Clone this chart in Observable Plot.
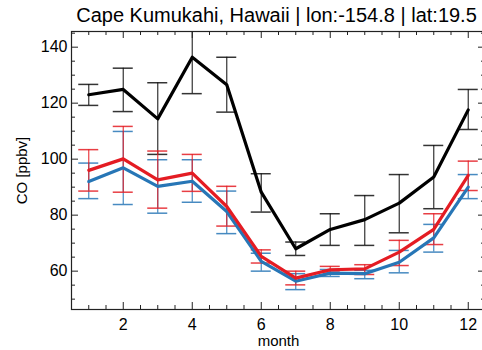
<!DOCTYPE html>
<html>
<head>
<meta charset="utf-8">
<script src="https://cdn.jsdelivr.net/npm/d3@7"></script>
<script src="https://cdn.jsdelivr.net/npm/@observablehq/plot@0.6"></script>
<style>
  html, body { margin: 0; padding: 0; background: #fff; }
  #chart { width: 482px; height: 350px; overflow: hidden; }
</style>
</head>
<body>
<div id="chart"></div>
<script>
const title = "Cape Kumukahi, Hawaii | lon:-154.8 | lat:19.5";
const xLabel = "month";
const yLabel = "CO [ppbv]";

const months = [1, 2, 3, 4, 5, 6, 7, 8, 9, 10, 11, 12];

const blackMean = [123.0, 124.9, 114.4, 136.4, 126.6, 88.2, 68.0, 74.9, 78.4, 84.3, 93.6, 117.6];
const blackLow  = [119.2, 117.0, 101.7, 123.4, 116.8, 81.1, 65.6, 69.2, 69.2, 73.7, 82.3, 110.6];
const blackHigh = [126.7, 132.5, 127.3, 150.0, 136.4, 94.8, 70.4, 80.5, 87.0, 94.5, 104.9, 124.9];

const redMean = [96.0, 100.1, 92.6, 95.0, 83.1, 65.3, 57.5, 60.5, 60.8, 66.8, 74.9, 94.2];
const redLow  = [88.6, 88.2, 82.5, 88.5, 76.1, 62.9, 55.1, 59.7, 58.8, 62.0, 69.5, 88.8];
const redHigh = [103.4, 111.7, 102.9, 101.7, 90.3, 67.6, 60.0, 61.7, 62.3, 71.0, 80.5, 99.3];

const blueMean = [92.0, 96.9, 90.3, 92.1, 81.3, 63.5, 56.4, 59.3, 59.1, 63.2, 71.9, 90.0];
const blueLow  = [85.9, 83.8, 80.7, 84.6, 73.4, 60.0, 53.4, 58.1, 57.3, 59.4, 66.8, 85.9];
const blueHigh = [98.6, 109.9, 99.8, 99.8, 88.6, 66.4, 59.1, 60.6, 60.3, 67.4, 76.7, 94.5];

const xDomain = [0.5, 12.5];
const yDomain = [46.3, 145.6];
const xMajor = [2, 4, 6, 8, 10, 12];
const xMinor = d3.range(1, 12.01, 0.5).filter(v => !xMajor.includes(v));
const yMajor = [60, 80, 100, 120, 140];
const yMinor = d3.range(50, 146, 5).filter(v => !yMajor.includes(v));

const series = [
  {name: "black", color: "#000000", mean: blackMean, low: blackLow, high: blackHigh, barColor: "#111111"},
  {name: "blue",  color: "#2776b6", mean: blueMean,  low: blueLow,  high: blueHigh,  barColor: "#2776b6"},
  {name: "red",   color: "#e41c23", mean: redMean,   low: redLow,   high: redHigh,   barColor: "#e41c23"}
];
const rows = series.map(s => months.map((m, i) => ({month: m, mean: s.mean[i], low: s.low[i], high: s.high[i]})));

function errMarks(s, data) {
  return [
    Plot.ruleX(data, {x: "month", y1: "low", y2: "high", stroke: s.barColor, strokeWidth: 1.2, strokeOpacity: 0.85, clip: true}),
    Plot.ruleY(data, {y: "low", x1: "month", x2: "month", insetLeft: -10, insetRight: -10, stroke: s.barColor, strokeWidth: 1.5, strokeOpacity: 0.85, clip: true}),
    Plot.ruleY(data, {y: "high", x1: "month", x2: "month", insetLeft: -10, insetRight: -10, stroke: s.barColor, strokeWidth: 1.5, strokeOpacity: 0.85, clip: true})
  ];
}

const tickColor = "#222";
const axisFont = "Liberation Sans, Arial, Helvetica, sans-serif";

const chart = Plot.plot({
  width: 482,
  height: 350,
  marginLeft: 71,
  marginRight: -3,
  marginTop: 31,
  marginBottom: 41,
  style: {fontFamily: axisFont, fontSize: "16px", color: "#000", background: "#fff"},
  x: {domain: xDomain, axis: null},
  y: {domain: yDomain, axis: null},
  marks: [
    ...errMarks(series[0], rows[0]),
    ...errMarks(series[1], rows[1]),
    ...errMarks(series[2], rows[2]),
    Plot.line(rows[1], {x: "month", y: "mean", stroke: series[1].color, strokeWidth: 3.2}),
    Plot.line(rows[2], {x: "month", y: "mean", stroke: series[2].color, strokeWidth: 3.2}),
    Plot.line(rows[0], {x: "month", y: "mean", stroke: series[0].color, strokeWidth: 3.2}),
    Plot.frame({stroke: tickColor, strokeWidth: 1.2}),
    Plot.ruleX(xMajor, {x: d => d, y1: yDomain[0], y2: yDomain[0], insetTop: -7, stroke: tickColor}),
    Plot.ruleX(xMinor, {x: d => d, y1: yDomain[0], y2: yDomain[0], insetTop: -4, stroke: tickColor}),
    Plot.ruleX(xMajor, {x: d => d, y1: yDomain[1], y2: yDomain[1], insetBottom: -7, stroke: tickColor}),
    Plot.ruleX(xMinor, {x: d => d, y1: yDomain[1], y2: yDomain[1], insetBottom: -4, stroke: tickColor}),
    Plot.ruleY(yMajor, {y: d => d, x1: xDomain[0], x2: xDomain[0], insetRight: -7, stroke: tickColor}),
    Plot.ruleY(yMinor, {y: d => d, x1: xDomain[0], x2: xDomain[0], insetRight: -4, stroke: tickColor}),
    Plot.ruleY(yMajor, {y: d => d, x1: xDomain[1], x2: xDomain[1], insetLeft: -7, stroke: tickColor}),
    Plot.ruleY(yMinor, {y: d => d, x1: xDomain[1], x2: xDomain[1], insetLeft: -4, stroke: tickColor}),
    Plot.axisX(xMajor, {tickSize: 0, tickPadding: 9, fontSize: 16, label: null}),
    Plot.axisY(yMajor, {tickSize: 0, tickPadding: 4, fontSize: 16, label: null}),
    Plot.text([xLabel], {text: d => d, frameAnchor: "bottom", dy: 32, fontSize: 15, lineAnchor: "middle"}),
    Plot.text([yLabel], {text: d => d, frameAnchor: "left", dx: -49, rotate: -90, fontSize: 15, lineAnchor: "middle", textAnchor: "middle"}),
    Plot.text([title], {text: d => d, frameAnchor: "top", dx: -2, dy: -16, fontSize: 20, lineAnchor: "middle"})
  ]
});
document.getElementById("chart").appendChild(chart);
</script>
</body>
</html>
